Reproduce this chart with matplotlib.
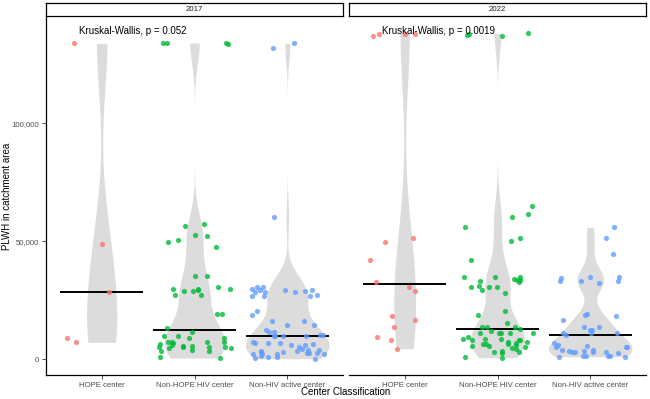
import numpy as np
import matplotlib.pyplot as plt
from matplotlib.ticker import FuncFormatter

plt.rcParams['font.family'] = ['Liberation Sans', 'DejaVu Sans']

# Data (PLWH in catchment area)
categories = ['HOPE center', 'Non-HOPE HIV center', 'Non-HIV active center']
years = ['2017', '2022']
p_labels = ['Kruskal-Wallis, p = 0.052', 'Kruskal-Wallis, p = 0.0019']

hope_2017 = [133700, 49000, 28600, 9000, 7200]
nonhope_2017 = [133900, 133800, 133700, 133600,
                57200, 56300, 52500, 52200, 50300, 49500, 47500,
                35100, 35200,
                30600, 29600, 29600, 29600, 29300, 28900, 28800, 27300, 27200,
                19300, 19300, 13200,
                11400, 10000, 9900, 9000, 9000,
                7500, 7400, 7200, 7200, 7000, 6300, 6200, 5800, 5800, 5300,
                5200, 5100, 5100, 4700, 4700, 4000, 3400, 3400, 850, 550]
nonhiv_2017 = [133700, 131800, 60300,
               30500, 30400, 29800, 29300, 29300, 29300, 29000, 28600, 28600,
               28500, 27200, 27000, 26900, 26900,
               20300, 18600, 16300, 16300, 14500, 14500, 12400, 11500, 11500,
               10300, 10300, 10000, 9990, 9990, 9990,
               7150, 7020, 7020, 6770, 6340, 6050, 5920, 5080, 4230, 3930, 3930,
               3640, 3640, 3210, 3210, 2790, 2540, 2540, 2240, 2240, 2240, 2240,
               1400, 1100, 1100, 680, 250]

hope_2022 = [137900, 137600, 137600, 136800, 51200, 49800, 42000, 32800,
             30700, 28900, 18400, 16600, 13800, 9300, 8200, 4500]
nonhope_2022 = [138000, 137500, 137200, 136800,
                65000, 61400, 60300, 56100, 51200, 50200, 42000,
                34700, 34700, 34700, 33800, 33500, 33500, 33300, 32800, 31000,
                30700, 30700, 30700, 29300, 27900,
                20600, 18700, 15500, 13800, 13800, 13800, 12800, 12100,
                11300, 11300, 11000, 11000, 11000, 9300,
                8700, 8400, 8400, 8200, 8200, 8000, 7500, 7200,
                6800, 6500, 6500, 6500, 6200, 5600, 5600, 5400,
                4700, 4200, 3500, 3200, 3200, 2800, 850, 680]
nonhiv_2022 = [55800, 51200, 44500,
               34700, 34700, 34300, 33300, 33000, 33000, 32200,
               19200, 18600, 18300, 16600, 13800, 13800, 12400, 12400,
               11000, 11000, 11000, 10400,
               6800, 6100, 5700, 5100, 5100, 5100, 3900, 3900, 3600, 3600,
               3200, 3200, 3200, 3000, 2500, 1400, 1400, 1400, 1400, 1100, 1100]

panels = [[hope_2017, nonhope_2017, nonhiv_2017],
          [hope_2022, nonhope_2022, nonhiv_2022]]
colors = ['#F8766D', '#00BA38', '#619CFF']


def bw_nrd0(x):
    x = np.asarray(x, float)
    sd = x.std(ddof=1)
    q75, q25 = np.percentile(x, [75, 25])
    lo = min(sd, (q75 - q25) / 1.34)
    if lo == 0:
        lo = sd
    return 0.9 * lo * len(x) ** -0.2


def density(x, grid):
    x = np.asarray(x, float)
    bw = bw_nrd0(x)
    z = (grid[:, None] - x[None, :]) / bw
    return np.exp(-0.5 * z ** 2).sum(axis=1) / (len(x) * bw * np.sqrt(2 * np.pi))


allvals = np.concatenate([np.asarray(g, float) for p in panels for g in p])
ymin, ymax = allvals.min(), allvals.max()
pad = 0.05 * (ymax - ymin)

fig = plt.figure(figsize=(6.5, 3.99), dpi=100)
W, H = 650, 399
rng = np.random.default_rng(11)

for k, (year, groups) in enumerate(zip(years, panels)):
    x0 = 46 if k == 0 else 349
    ax = fig.add_axes([x0 / W, (H - 375) / H, 297 / W, 358 / H])

    # violin densities, scaled by area within the panel
    grids, dens = [], []
    for g in groups:
        grid = np.linspace(min(g), max(g), 512)
        grids.append(grid)
        dens.append(density(g, grid))
    dmax = max(d.max() for d in dens)

    for i, (g, grid, d) in enumerate(zip(groups, grids, dens)):
        pos = i + 1
        hw = 0.45 * d / dmax
        ax.fill_betweenx(grid, pos - hw, pos + hw, color='#DCDCDC', lw=0, zorder=1)
        ax.hlines(np.median(g), pos - 0.45, pos + 0.45, color='black', lw=1.4, zorder=2)
        jit = rng.uniform(-0.4, 0.4, len(g))
        ax.scatter(pos + jit, g, s=14, color=colors[i], alpha=0.8, lw=0, zorder=3)

    ax.text(0.76, 139000, p_labels[k], fontsize=7, ha='left', va='center', zorder=4)

    ax.set_xlim(0.4, 3.6)
    ax.set_ylim(ymin - pad, ymax + pad)
    ax.set_xticks([1, 2, 3])
    ax.set_xticklabels(categories)
    ax.set_yticks([0, 50000, 100000])
    ax.yaxis.set_major_formatter(FuncFormatter(lambda v, p: '{:,}'.format(int(v))))
    ax.tick_params(labelsize=5.6, labelcolor='#4D4D4D', color='#333333',
                   length=3, width=0.6, pad=2)
    for s in ['top', 'right']:
        ax.spines[s].set_visible(False)
    ax.spines['bottom'].set_linewidth(0.9)
    ax.spines['left'].set_linewidth(0.9)
    if k == 1:
        ax.spines['left'].set_visible(False)
        ax.tick_params(axis='y', left=False, labelleft=False)

    # facet strip
    sax = fig.add_axes([x0 / W, (H - 16) / H, 297 / W, 13 / H])
    sax.set_xticks([])
    sax.set_yticks([])
    for s in sax.spines.values():
        s.set_linewidth(0.9)
    sax.text(0.5, 0.5, year, fontsize=5.6, color='#1A1A1A',
             ha='center', va='center', transform=sax.transAxes)

fig.text(7 / W, 1 - 196 / H, 'PLWH in catchment area', fontsize=7,
         rotation=90, ha='center', va='center')
fig.text(346 / W, 1 - 392 / H, 'Center Classification', fontsize=7,
         ha='center', va='center')

plt.savefig('out.png', dpi=100)
